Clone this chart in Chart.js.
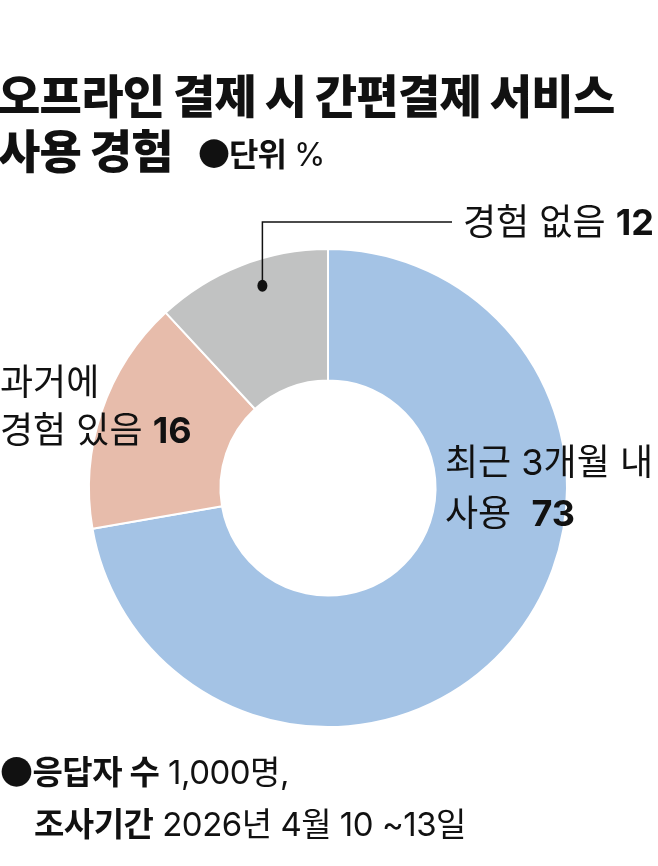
<!DOCTYPE html>
<html lang="ko">
<head>
<meta charset="utf-8">
<script src="https://cdn.jsdelivr.net/npm/chart.js@4"></script>
<style>
  html, body { margin: 0; padding: 0; background: #fff; }
  body { width: 658px; height: 866px; position: relative; overflow: hidden;
         font-family: Inter, "Noto Sans CJK KR", "Noto Sans", sans-serif; color: #111; }
  #chart { position: absolute; left: 0; top: 0; }
  .t { position: absolute; white-space: nowrap; line-height: 1; }
  .title { font-size: 46px; font-weight: 900; letter-spacing: -0.7px; left: -2px; }
  .lbl { font-size: 36px; letter-spacing: 0; }
  .foot { font-size: 33px; letter-spacing: -0.5px; }
  .dot { font-family: "Noto Sans CJK KR", sans-serif; }
  b { font-weight: 700; }
</style>
</head>
<body>
<canvas id="chart" width="658" height="866"></canvas>

<div class="t title" style="top:73px">오프라인 결제 시 간편결제 서비스</div>
<div class="t title" style="top:128px">사용 경험</div>
<div class="t" style="left:198px;top:136px;font-size:32px;letter-spacing:-1px"><b><span class="dot">●</span>단위</b> %</div>

<div class="t lbl" id="lblNone" style="left:463px;top:204px"></div>
<div class="t lbl" style="left:0;top:364px">과거에</div>
<div class="t lbl" id="lblPast" style="left:0;top:412px"></div>
<div class="t lbl" style="left:445px;top:444px">최근 3개월 내</div>
<div class="t lbl" id="lblRecent" style="left:445px;top:495px"></div>

<div class="t foot" style="left:0;top:754px"><b><span class="dot">●</span>응답자 수</b> 1,000명,</div>
<div class="t foot" style="left:34px;top:808px"><b>조사기간</b> 2026년 4월 10 ~13일</div>

<script>
const categories = ["최근 3개월 내 사용", "과거에 경험 있음", "경험 없음"];
const values = [73, 16, 12];
const colors = ["#a4c3e5", "#e7bcab", "#c1c2c2"];

document.getElementById("lblRecent").innerHTML = "사용&nbsp;&nbsp;<b>" + values[0] + "</b>";
document.getElementById("lblPast").innerHTML = "경험 있음 <b>" + values[1] + "</b>";
document.getElementById("lblNone").innerHTML = "경험 없음 <b>" + values[2] + "</b>";

// leader line from the grey slice up to its label
const leaderLine = {
  id: "leaderLine",
  afterDraw(chart) {
    const arc = chart.getDatasetMeta(0).data[2];
    if (!arc) return;
    const p = arc.getProps(["x", "y", "startAngle", "endAngle", "outerRadius"], true);
    const a = p.startAngle + (p.endAngle - p.startAngle) * 0.58;
    const r = p.outerRadius * 0.89;
    const dx = p.x + Math.cos(a) * r;
    const dy = p.y + Math.sin(a) * r;
    const c = chart.ctx;
    c.save();
    c.strokeStyle = "#111";
    c.lineWidth = 1.5;
    c.beginPath();
    c.moveTo(dx, dy);
    c.lineTo(dx, 222);
    c.lineTo(452, 222);
    c.stroke();
    c.fillStyle = "#111";
    c.beginPath();
    c.ellipse(dx, dy, 5, 6, 0, 0, Math.PI * 2);
    c.fill();
    c.restore();
  },
};

const ctx = document.getElementById("chart").getContext("2d");
new Chart(ctx, {
  type: "doughnut",
  data: {
    labels: categories,
    datasets: [
      {
        data: values,
        backgroundColor: colors,
        borderColor: "#ffffff",
        borderWidth: 2,
      },
    ],
  },
  options: {
    responsive: false,
    animation: false,
    cutout: "45%",
    layout: {
      padding: { left: 88, right: 90, top: 248, bottom: 138 },
    },
    plugins: {
      legend: { display: false },
      tooltip: { enabled: false },
    },
  },
  plugins: [leaderLine],
});
</script>
</body>
</html>
